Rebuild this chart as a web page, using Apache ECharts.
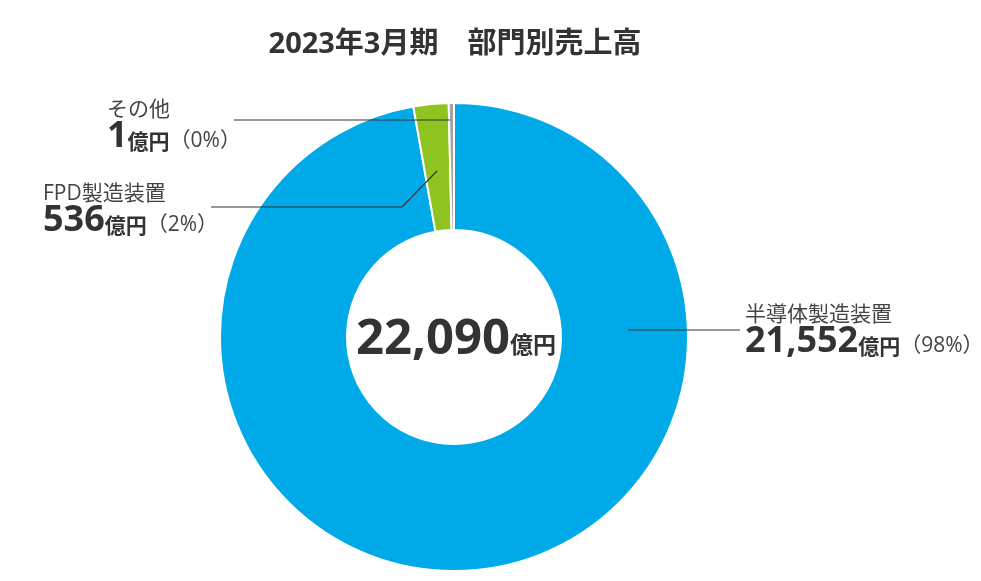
<!DOCTYPE html>
<html>
<head>
<meta charset="utf-8">
<script src="https://cdn.jsdelivr.net/npm/echarts@6/dist/echarts.min.js"></script>
<style>
html,body{margin:0;padding:0;background:#fff;}
#chart{width:981px;height:581px;}
</style>
</head>
<body>
<div id="chart"></div>
<script>
// ---- data ----
const titleText = '2023年3月期　部門別売上高';
const categories = ['半導体製造装置', 'FPD製造装置', 'その他'];
const values = [21552, 536, 1];
const percentLabels = ['98%', '2%', '0%'];
const totalLabel = '22,090';
const unitLabel = '億円';

// ---- layout / style (not data) ----
const FONT_NUM = "'Open Sans','Noto Sans CJK JP',sans-serif";
const FONT_JP = "'Noto Sans CJK JP','Open Sans',sans-serif";
const colors = ['#00A9E8', '#8FC31F', '#A3A3A3'];
const CX = 454, CY = 337;
const RADIUS = [107, 234];
const labelLayouts = [
  { x: 745, y: 300, line: [[628, 330], [684, 330], [740, 330]] },
  { x: 43, y: 179, line: [[437, 171], [402, 207], [211, 207]] },
  { x: 107, y: 95, line: [[450, 120], [340, 120], [234, 120]] }
];

const chart = echarts.init(document.getElementById('chart'), null, { renderer: 'canvas' });

const pieData = categories.map((c, i) => ({ name: c, value: values[i] }));

const option = {
  backgroundColor: '#ffffff',
  animation: false,
  title: [
    {
      text: titleText,
      left: 455,
      top: 30,
      padding: 0,
      textAlign: 'center',
      textStyle: { fontFamily: FONT_NUM, fontSize: 29, fontWeight: 'bold', color: '#333333', lineHeight: 30 }
    },
    {
      text: '{a|' + totalLabel + '}{b|' + unitLabel + '}',
      left: CX + 2,
      top: CY,
      padding: 0,
      textAlign: 'center',
      textVerticalAlign: 'middle',
      textStyle: {
        rich: {
          a: { fontFamily: FONT_NUM, fontSize: 49, fontWeight: 'bold', color: '#333333', lineHeight: 56, verticalAlign: 'bottom' },
          b: { fontFamily: FONT_JP, fontSize: 23, fontWeight: 'bold', color: '#333333', verticalAlign: 'bottom', padding: [0, 0, 9, 0] }
        }
      }
    }
  ],
  series: [
    {
      type: 'pie',
      z: 2,
      center: [CX, CY],
      radius: RADIUS,
      startAngle: 90,
      clockwise: true,
      minAngle: 1.3,
      silent: true,
      itemStyle: { borderColor: '#ffffff', borderWidth: 2 },
      emphasis: { disabled: true },
      data: pieData.map((d, i) => ({ name: d.name, value: d.value, itemStyle: { color: colors[i] } })),
      label: { show: false },
      labelLine: { show: false }
    },
    {
      // transparent overlay series carrying labels and leader lines above the ring
      type: 'pie',
      z: 5,
      center: [CX, CY],
      radius: RADIUS,
      startAngle: 90,
      clockwise: true,
      minAngle: 1.3,
      silent: true,
      avoidLabelOverlap: false,
      itemStyle: { color: 'rgba(0,0,0,0)', borderWidth: 0 },
      emphasis: { disabled: true },
      data: pieData,
      label: {
        show: true,
        position: 'outside',
        formatter: function (p) {
          const i = p.dataIndex;
          return '{n|' + categories[i] + '}\n{v|' + values[i].toLocaleString('en-US') + '}{u|' + unitLabel + '}{p|（' + percentLabels[i] + '）}';
        },
        rich: {
          n: { fontFamily: FONT_NUM, fontSize: 21, color: '#444444', lineHeight: 30 },
          v: { fontFamily: FONT_NUM, fontSize: 36, fontWeight: 'bold', color: '#333333', lineHeight: 30, verticalAlign: 'bottom' },
          u: { fontFamily: FONT_JP, fontSize: 21, fontWeight: 'bold', color: '#333333', verticalAlign: 'bottom', padding: [0, 0, 3, 0] },
          p: { fontFamily: FONT_NUM, fontSize: 21, color: '#444444', verticalAlign: 'bottom', padding: [0, 0, 3, 0] }
        }
      },
      labelLine: {
        show: true,
        smooth: false,
        lineStyle: { color: '#333333', width: 1.2 }
      },
      labelLayout: function (params) {
        const L = labelLayouts[params.dataIndex];
        return {
          x: L.x,
          y: L.y,
          align: 'left',
          verticalAlign: 'top',
          labelLinePoints: L.line
        };
      }
    }
  ]
};
chart.setOption(option);
</script>
</body>
</html>
